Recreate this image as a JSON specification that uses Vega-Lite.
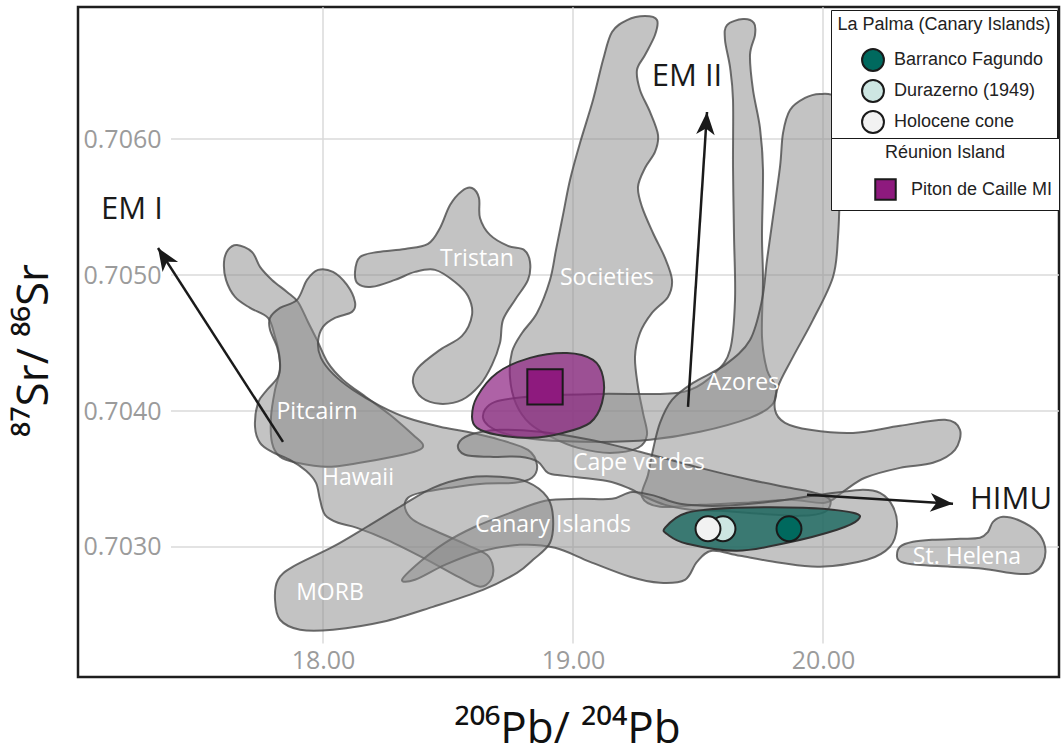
{
"$schema": "https://vega.github.io/schema/vega-lite/v6.json",
"width": 981, "height": 670,
"autosize": {"type": "none"},
"padding": {"left": 78, "top": 7, "right": 3, "bottom": 78},
"background": "white",
"config": {
  "view": {"stroke": "#1e1e1e", "strokeWidth": 2.5},
  "font": "Open Sans",
  "axis": {"grid": false, "ticks": false, "domain": false},
  "legend": {"labelFont": "Liberation Sans", "titleFont": "Liberation Sans", "labelFontSize": 18, "titleFontSize": 18, "titleFontWeight": "normal", "titleColor": "#222", "labelColor": "#222", "strokeColor": "#1a1a1a", "fillColor": "white", "padding": 6, "symbolStrokeWidth": 2, "symbolStrokeColor": "#1a1a1a", "rowPadding": 1, "titleAnchor": "middle", "labelLimit": 300, "titleLimit": 300}
},
"datasets": {
  "gx": [{"x": 18}, {"x": 19}, {"x": 20}],
  "gy": [{"y": 0.703}, {"y": 0.704}, {"y": 0.705}, {"y": 0.706}],
  "fields": [
    {"f":"Pitcairn","i":1,"x":17.656,"y":0.705221},{"f":"Pitcairn","i":2,"x":17.716,"y":0.705170},{"f":"Pitcairn","i":3,"x":17.748,"y":0.705060},{"f":"Pitcairn","i":4,"x":17.796,"y":0.704964},{"f":"Pitcairn","i":5,"x":17.856,"y":0.704876},{"f":"Pitcairn","i":6,"x":17.900,"y":0.704802},{"f":"Pitcairn","i":7,"x":17.940,"y":0.704655},{"f":"Pitcairn","i":8,"x":17.976,"y":0.704523},{"f":"Pitcairn","i":9,"x":18.020,"y":0.704354},{"f":"Pitcairn","i":10,"x":18.080,"y":0.704229},{"f":"Pitcairn","i":11,"x":18.176,"y":0.704097},{"f":"Pitcairn","i":12,"x":18.268,"y":0.703972},{"f":"Pitcairn","i":13,"x":18.360,"y":0.703825},{"f":"Pitcairn","i":14,"x":18.400,"y":0.703751},{"f":"Pitcairn","i":15,"x":18.376,"y":0.703707},{"f":"Pitcairn","i":16,"x":18.280,"y":0.703663},{"f":"Pitcairn","i":17,"x":18.148,"y":0.703619},{"f":"Pitcairn","i":18,"x":18.016,"y":0.703590},{"f":"Pitcairn","i":19,"x":17.896,"y":0.703619},{"f":"Pitcairn","i":20,"x":17.828,"y":0.703663},{"f":"Pitcairn","i":21,"x":17.796,"y":0.703766},{"f":"Pitcairn","i":22,"x":17.792,"y":0.703957},{"f":"Pitcairn","i":23,"x":17.808,"y":0.704155},{"f":"Pitcairn","i":24,"x":17.828,"y":0.704302},{"f":"Pitcairn","i":25,"x":17.824,"y":0.704427},{"f":"Pitcairn","i":26,"x":17.808,"y":0.704545},{"f":"Pitcairn","i":27,"x":17.780,"y":0.704685},{"f":"Pitcairn","i":28,"x":17.708,"y":0.704758},{"f":"Pitcairn","i":29,"x":17.648,"y":0.704839},{"f":"Pitcairn","i":30,"x":17.612,"y":0.704964},{"f":"Pitcairn","i":31,"x":17.604,"y":0.705096},{"f":"Pitcairn","i":32,"x":17.620,"y":0.705185},
    {"f":"Hawaii","i":1,"x":17.896,"y":0.704817},{"f":"Hawaii","i":2,"x":17.936,"y":0.704964},{"f":"Hawaii","i":3,"x":17.980,"y":0.705038},{"f":"Hawaii","i":4,"x":18.040,"y":0.705023},{"f":"Hawaii","i":5,"x":18.096,"y":0.704927},{"f":"Hawaii","i":6,"x":18.128,"y":0.704802},{"f":"Hawaii","i":7,"x":18.116,"y":0.704729},{"f":"Hawaii","i":8,"x":18.048,"y":0.704685},{"f":"Hawaii","i":9,"x":18.000,"y":0.704619},{"f":"Hawaii","i":10,"x":17.980,"y":0.704508},{"f":"Hawaii","i":11,"x":17.992,"y":0.704391},{"f":"Hawaii","i":12,"x":18.040,"y":0.704273},{"f":"Hawaii","i":13,"x":18.120,"y":0.704155},{"f":"Hawaii","i":14,"x":18.228,"y":0.704038},{"f":"Hawaii","i":15,"x":18.336,"y":0.703950},{"f":"Hawaii","i":16,"x":18.468,"y":0.703884},{"f":"Hawaii","i":17,"x":18.576,"y":0.703847},{"f":"Hawaii","i":18,"x":18.708,"y":0.703788},{"f":"Hawaii","i":19,"x":18.820,"y":0.703714},{"f":"Hawaii","i":20,"x":18.856,"y":0.703604},{"f":"Hawaii","i":21,"x":18.836,"y":0.703509},{"f":"Hawaii","i":22,"x":18.768,"y":0.703472},{"f":"Hawaii","i":23,"x":18.640,"y":0.703465},{"f":"Hawaii","i":24,"x":18.508,"y":0.703435},{"f":"Hawaii","i":25,"x":18.388,"y":0.703398},{"f":"Hawaii","i":26,"x":18.340,"y":0.703362},{"f":"Hawaii","i":27,"x":18.328,"y":0.703288},{"f":"Hawaii","i":28,"x":18.360,"y":0.703200},{"f":"Hawaii","i":29,"x":18.440,"y":0.703127},{"f":"Hawaii","i":30,"x":18.576,"y":0.703016},{"f":"Hawaii","i":31,"x":18.656,"y":0.702943},{"f":"Hawaii","i":32,"x":18.680,"y":0.702855},{"f":"Hawaii","i":33,"x":18.672,"y":0.702759},{"f":"Hawaii","i":34,"x":18.628,"y":0.702708},{"f":"Hawaii","i":35,"x":18.548,"y":0.702774},{"f":"Hawaii","i":36,"x":18.416,"y":0.702906},{"f":"Hawaii","i":37,"x":18.256,"y":0.703053},{"f":"Hawaii","i":38,"x":18.136,"y":0.703141},{"f":"Hawaii","i":39,"x":18.060,"y":0.703178},{"f":"Hawaii","i":40,"x":18.008,"y":0.703237},{"f":"Hawaii","i":41,"x":17.988,"y":0.703347},{"f":"Hawaii","i":42,"x":17.972,"y":0.703472},{"f":"Hawaii","i":43,"x":17.932,"y":0.703560},{"f":"Hawaii","i":44,"x":17.868,"y":0.703641},{"f":"Hawaii","i":45,"x":17.796,"y":0.703700},{"f":"Hawaii","i":46,"x":17.748,"y":0.703766},{"f":"Hawaii","i":47,"x":17.728,"y":0.703884},{"f":"Hawaii","i":48,"x":17.740,"y":0.704060},{"f":"Hawaii","i":49,"x":17.776,"y":0.704155},{"f":"Hawaii","i":50,"x":17.820,"y":0.704251},{"f":"Hawaii","i":51,"x":17.828,"y":0.704354},{"f":"Hawaii","i":52,"x":17.816,"y":0.704472},{"f":"Hawaii","i":53,"x":17.788,"y":0.704597},{"f":"Hawaii","i":54,"x":17.788,"y":0.704685},{"f":"Hawaii","i":55,"x":17.828,"y":0.704758},
    {"f":"Tristan","i":1,"x":18.128,"y":0.705023},{"f":"Tristan","i":2,"x":18.148,"y":0.705133},{"f":"Tristan","i":3,"x":18.220,"y":0.705170},{"f":"Tristan","i":4,"x":18.328,"y":0.705192},{"f":"Tristan","i":5,"x":18.420,"y":0.705229},{"f":"Tristan","i":6,"x":18.468,"y":0.705346},{"f":"Tristan","i":7,"x":18.508,"y":0.705515},{"f":"Tristan","i":8,"x":18.556,"y":0.705618},{"f":"Tristan","i":9,"x":18.596,"y":0.705640},{"f":"Tristan","i":10,"x":18.624,"y":0.705567},{"f":"Tristan","i":11,"x":18.628,"y":0.705420},{"f":"Tristan","i":12,"x":18.668,"y":0.705295},{"f":"Tristan","i":13,"x":18.740,"y":0.705214},{"f":"Tristan","i":14,"x":18.804,"y":0.705185},{"f":"Tristan","i":15,"x":18.828,"y":0.705096},{"f":"Tristan","i":16,"x":18.820,"y":0.704964},{"f":"Tristan","i":17,"x":18.768,"y":0.704817},{"f":"Tristan","i":18,"x":18.720,"y":0.704670},{"f":"Tristan","i":19,"x":18.708,"y":0.704501},{"f":"Tristan","i":20,"x":18.676,"y":0.704339},{"f":"Tristan","i":21,"x":18.628,"y":0.704192},{"f":"Tristan","i":22,"x":18.556,"y":0.704082},{"f":"Tristan","i":23,"x":18.468,"y":0.704053},{"f":"Tristan","i":24,"x":18.396,"y":0.704097},{"f":"Tristan","i":25,"x":18.360,"y":0.704207},{"f":"Tristan","i":26,"x":18.380,"y":0.704317},{"f":"Tristan","i":27,"x":18.468,"y":0.704450},{"f":"Tristan","i":28,"x":18.556,"y":0.704552},{"f":"Tristan","i":29,"x":18.596,"y":0.704707},{"f":"Tristan","i":30,"x":18.580,"y":0.704846},{"f":"Tristan","i":31,"x":18.528,"y":0.704949},{"f":"Tristan","i":32,"x":18.448,"y":0.705038},{"f":"Tristan","i":33,"x":18.368,"y":0.705023},{"f":"Tristan","i":34,"x":18.288,"y":0.704964},{"f":"Tristan","i":35,"x":18.196,"y":0.704913},{"f":"Tristan","i":36,"x":18.140,"y":0.704935},
    {"f":"Societies","i":1,"x":19.156,"y":0.706787},{"f":"Societies","i":2,"x":19.216,"y":0.706875},{"f":"Societies","i":3,"x":19.288,"y":0.706904},{"f":"Societies","i":4,"x":19.336,"y":0.706875},{"f":"Societies","i":5,"x":19.328,"y":0.706765},{"f":"Societies","i":6,"x":19.288,"y":0.706618},{"f":"Societies","i":7,"x":19.256,"y":0.706508},{"f":"Societies","i":8,"x":19.268,"y":0.706361},{"f":"Societies","i":9,"x":19.308,"y":0.706199},{"f":"Societies","i":10,"x":19.340,"y":0.706030},{"f":"Societies","i":11,"x":19.328,"y":0.705905},{"f":"Societies","i":12,"x":19.288,"y":0.705787},{"f":"Societies","i":13,"x":19.260,"y":0.705648},{"f":"Societies","i":14,"x":19.276,"y":0.705501},{"f":"Societies","i":15,"x":19.320,"y":0.705309},{"f":"Societies","i":16,"x":19.368,"y":0.705126},{"f":"Societies","i":17,"x":19.396,"y":0.704964},{"f":"Societies","i":18,"x":19.380,"y":0.704839},{"f":"Societies","i":19,"x":19.316,"y":0.704721},{"f":"Societies","i":20,"x":19.268,"y":0.704574},{"f":"Societies","i":21,"x":19.248,"y":0.704398},{"f":"Societies","i":22,"x":19.260,"y":0.704178},{"f":"Societies","i":23,"x":19.280,"y":0.703986},{"f":"Societies","i":24,"x":19.296,"y":0.703825},{"f":"Societies","i":25,"x":19.260,"y":0.703729},{"f":"Societies","i":26,"x":19.148,"y":0.703692},{"f":"Societies","i":27,"x":19.020,"y":0.703729},{"f":"Societies","i":28,"x":18.920,"y":0.703803},{"f":"Societies","i":29,"x":18.828,"y":0.703906},{"f":"Societies","i":30,"x":18.772,"y":0.704053},{"f":"Societies","i":31,"x":18.748,"y":0.704244},{"f":"Societies","i":32,"x":18.756,"y":0.704435},{"f":"Societies","i":33,"x":18.796,"y":0.704574},{"f":"Societies","i":34,"x":18.856,"y":0.704721},{"f":"Societies","i":35,"x":18.908,"y":0.704964},{"f":"Societies","i":36,"x":18.932,"y":0.705185},{"f":"Societies","i":37,"x":18.960,"y":0.705442},{"f":"Societies","i":38,"x":18.988,"y":0.705699},{"f":"Societies","i":39,"x":19.028,"y":0.705971},{"f":"Societies","i":40,"x":19.080,"y":0.706287},{"f":"Societies","i":41,"x":19.120,"y":0.706581},
    {"f":"Samoa","i":1,"x":19.616,"y":0.706838},{"f":"Samoa","i":2,"x":19.680,"y":0.706882},{"f":"Samoa","i":3,"x":19.724,"y":0.706853},{"f":"Samoa","i":4,"x":19.728,"y":0.706765},{"f":"Samoa","i":5,"x":19.708,"y":0.706618},{"f":"Samoa","i":6,"x":19.720,"y":0.706361},{"f":"Samoa","i":7,"x":19.748,"y":0.706081},{"f":"Samoa","i":8,"x":19.760,"y":0.705773},{"f":"Samoa","i":9,"x":19.756,"y":0.705295},{"f":"Samoa","i":10,"x":19.760,"y":0.704964},{"f":"Samoa","i":11,"x":19.756,"y":0.704545},{"f":"Samoa","i":12,"x":19.776,"y":0.704302},{"f":"Samoa","i":13,"x":19.812,"y":0.704170},{"f":"Samoa","i":14,"x":19.796,"y":0.704045},{"f":"Samoa","i":15,"x":19.708,"y":0.703950},{"f":"Samoa","i":16,"x":19.508,"y":0.703847},{"f":"Samoa","i":17,"x":19.308,"y":0.703788},{"f":"Samoa","i":18,"x":19.108,"y":0.703773},{"f":"Samoa","i":19,"x":18.868,"y":0.703788},{"f":"Samoa","i":20,"x":18.708,"y":0.703847},{"f":"Samoa","i":21,"x":18.640,"y":0.703950},{"f":"Samoa","i":22,"x":18.688,"y":0.704067},{"f":"Samoa","i":23,"x":18.868,"y":0.704111},{"f":"Samoa","i":24,"x":19.108,"y":0.704126},{"f":"Samoa","i":25,"x":19.348,"y":0.704126},{"f":"Samoa","i":26,"x":19.468,"y":0.704155},{"f":"Samoa","i":27,"x":19.568,"y":0.704280},{"f":"Samoa","i":28,"x":19.628,"y":0.704449},{"f":"Samoa","i":29,"x":19.648,"y":0.704817},{"f":"Samoa","i":30,"x":19.644,"y":0.705295},{"f":"Samoa","i":31,"x":19.640,"y":0.705795},{"f":"Samoa","i":32,"x":19.640,"y":0.706287},{"f":"Samoa","i":33,"x":19.628,"y":0.706530},{"f":"Samoa","i":34,"x":19.608,"y":0.706728},
    {"f":"Azores","i":1,"x":19.840,"y":0.706044},{"f":"Azores","i":2,"x":19.868,"y":0.706214},{"f":"Azores","i":3,"x":19.928,"y":0.706302},{"f":"Azores","i":4,"x":19.988,"y":0.706331},{"f":"Azores","i":5,"x":20.048,"y":0.706309},{"f":"Azores","i":6,"x":20.068,"y":0.706140},{"f":"Azores","i":7,"x":20.068,"y":0.705699},{"f":"Azores","i":8,"x":20.060,"y":0.705280},{"f":"Azores","i":9,"x":20.040,"y":0.704986},{"f":"Azores","i":10,"x":19.960,"y":0.704670},{"f":"Azores","i":11,"x":19.880,"y":0.704398},{"f":"Azores","i":12,"x":19.820,"y":0.704178},{"f":"Azores","i":13,"x":19.808,"y":0.704009},{"f":"Azores","i":14,"x":19.848,"y":0.703913},{"f":"Azores","i":15,"x":19.948,"y":0.703862},{"f":"Azores","i":16,"x":20.120,"y":0.703839},{"f":"Azores","i":17,"x":20.308,"y":0.703891},{"f":"Azores","i":18,"x":20.488,"y":0.703935},{"f":"Azores","i":19,"x":20.548,"y":0.703862},{"f":"Azores","i":20,"x":20.528,"y":0.703715},{"f":"Azores","i":21,"x":20.440,"y":0.703619},{"f":"Azores","i":22,"x":20.308,"y":0.703582},{"f":"Azores","i":23,"x":20.168,"y":0.703509},{"f":"Azores","i":24,"x":20.080,"y":0.703406},{"f":"Azores","i":25,"x":20.008,"y":0.703325},{"f":"Azores","i":26,"x":19.868,"y":0.703347},{"f":"Azores","i":27,"x":19.688,"y":0.703325},{"f":"Azores","i":28,"x":19.508,"y":0.703310},{"f":"Azores","i":29,"x":19.348,"y":0.703296},{"f":"Azores","i":30,"x":19.276,"y":0.703369},{"f":"Azores","i":31,"x":19.300,"y":0.703531},{"f":"Azores","i":32,"x":19.320,"y":0.703715},{"f":"Azores","i":33,"x":19.348,"y":0.703913},{"f":"Azores","i":34,"x":19.396,"y":0.704082},{"f":"Azores","i":35,"x":19.480,"y":0.704207},{"f":"Azores","i":36,"x":19.608,"y":0.704339},{"f":"Azores","i":37,"x":19.708,"y":0.704523},{"f":"Azores","i":38,"x":19.756,"y":0.704817},{"f":"Azores","i":39,"x":19.776,"y":0.705111},{"f":"Azores","i":40,"x":19.800,"y":0.705427},{"f":"Azores","i":41,"x":19.828,"y":0.705795},
    {"f":"Cape Verde","i":1,"x":18.540,"y":0.703751},{"f":"Cape Verde","i":2,"x":18.588,"y":0.703825},{"f":"Cape Verde","i":3,"x":18.708,"y":0.703862},{"f":"Cape Verde","i":4,"x":18.868,"y":0.703847},{"f":"Cape Verde","i":5,"x":19.068,"y":0.703788},{"f":"Cape Verde","i":6,"x":19.268,"y":0.703700},{"f":"Cape Verde","i":7,"x":19.508,"y":0.703582},{"f":"Cape Verde","i":8,"x":19.708,"y":0.703494},{"f":"Cape Verde","i":9,"x":19.868,"y":0.703435},{"f":"Cape Verde","i":10,"x":19.968,"y":0.703398},{"f":"Cape Verde","i":11,"x":20.028,"y":0.703347},{"f":"Cape Verde","i":12,"x":20.008,"y":0.703259},{"f":"Cape Verde","i":13,"x":19.908,"y":0.703229},{"f":"Cape Verde","i":14,"x":19.748,"y":0.703244},{"f":"Cape Verde","i":15,"x":19.588,"y":0.703266},{"f":"Cape Verde","i":16,"x":19.468,"y":0.703274},{"f":"Cape Verde","i":17,"x":19.368,"y":0.703310},{"f":"Cape Verde","i":18,"x":19.288,"y":0.703369},{"f":"Cape Verde","i":19,"x":19.228,"y":0.703428},{"f":"Cape Verde","i":20,"x":19.136,"y":0.703486},{"f":"Cape Verde","i":21,"x":18.968,"y":0.703523},{"f":"Cape Verde","i":22,"x":18.900,"y":0.703545},{"f":"Cape Verde","i":23,"x":18.860,"y":0.703626},{"f":"Cape Verde","i":24,"x":18.788,"y":0.703663},{"f":"Cape Verde","i":25,"x":18.668,"y":0.703663},{"f":"Cape Verde","i":26,"x":18.568,"y":0.703678},
    {"f":"Canary","i":1,"x":18.316,"y":0.702759},{"f":"Canary","i":2,"x":18.388,"y":0.702891},{"f":"Canary","i":3,"x":18.488,"y":0.703031},{"f":"Canary","i":4,"x":18.608,"y":0.703149},{"f":"Canary","i":5,"x":18.748,"y":0.703251},{"f":"Canary","i":6,"x":18.888,"y":0.703340},{"f":"Canary","i":7,"x":19.028,"y":0.703354},{"f":"Canary","i":8,"x":19.156,"y":0.703354},{"f":"Canary","i":9,"x":19.236,"y":0.703405},{"f":"Canary","i":10,"x":19.328,"y":0.703376},{"f":"Canary","i":11,"x":19.428,"y":0.703318},{"f":"Canary","i":12,"x":19.588,"y":0.703303},{"f":"Canary","i":13,"x":19.788,"y":0.703332},{"f":"Canary","i":14,"x":19.988,"y":0.703384},{"f":"Canary","i":15,"x":20.148,"y":0.703420},{"f":"Canary","i":16,"x":20.228,"y":0.703398},{"f":"Canary","i":17,"x":20.280,"y":0.703296},{"f":"Canary","i":18,"x":20.296,"y":0.703149},{"f":"Canary","i":19,"x":20.268,"y":0.703002},{"f":"Canary","i":20,"x":20.176,"y":0.702906},{"f":"Canary","i":21,"x":19.988,"y":0.702855},{"f":"Canary","i":22,"x":19.828,"y":0.702884},{"f":"Canary","i":23,"x":19.668,"y":0.702935},{"f":"Canary","i":24,"x":19.556,"y":0.702972},{"f":"Canary","i":25,"x":19.496,"y":0.702891},{"f":"Canary","i":26,"x":19.448,"y":0.702759},{"f":"Canary","i":27,"x":19.348,"y":0.702737},{"f":"Canary","i":28,"x":19.228,"y":0.702781},{"f":"Canary","i":29,"x":19.068,"y":0.702891},{"f":"Canary","i":30,"x":18.928,"y":0.702994},{"f":"Canary","i":31,"x":18.788,"y":0.703016},{"f":"Canary","i":32,"x":18.628,"y":0.702965},{"f":"Canary","i":33,"x":18.488,"y":0.702869},{"f":"Canary","i":34,"x":18.368,"y":0.702759},
    {"f":"MORB","i":1,"x":17.820,"y":0.702759},{"f":"MORB","i":2,"x":17.880,"y":0.702855},{"f":"MORB","i":3,"x":18.040,"y":0.703002},{"f":"MORB","i":4,"x":18.176,"y":0.703149},{"f":"MORB","i":5,"x":18.308,"y":0.703296},{"f":"MORB","i":6,"x":18.440,"y":0.703435},{"f":"MORB","i":7,"x":18.576,"y":0.703509},{"f":"MORB","i":8,"x":18.708,"y":0.703516},{"f":"MORB","i":9,"x":18.816,"y":0.703479},{"f":"MORB","i":10,"x":18.896,"y":0.703369},{"f":"MORB","i":11,"x":18.920,"y":0.703222},{"f":"MORB","i":12,"x":18.908,"y":0.703031},{"f":"MORB","i":13,"x":18.840,"y":0.702906},{"f":"MORB","i":14,"x":18.776,"y":0.702810},{"f":"MORB","i":15,"x":18.640,"y":0.702685},{"f":"MORB","i":16,"x":18.440,"y":0.702560},{"f":"MORB","i":17,"x":18.240,"y":0.702450},{"f":"MORB","i":18,"x":18.040,"y":0.702392},{"f":"MORB","i":19,"x":17.908,"y":0.702392},{"f":"MORB","i":20,"x":17.828,"y":0.702465},{"f":"MORB","i":21,"x":17.808,"y":0.702612},
    {"f":"St Helena","i":1,"x":20.296,"y":0.702928},{"f":"St Helena","i":2,"x":20.308,"y":0.703002},{"f":"St Helena","i":3,"x":20.360,"y":0.703038},{"f":"St Helena","i":4,"x":20.440,"y":0.703053},{"f":"St Helena","i":5,"x":20.548,"y":0.703060},{"f":"St Helena","i":6,"x":20.628,"y":0.703068},{"f":"St Helena","i":7,"x":20.660,"y":0.703112},{"f":"St Helena","i":8,"x":20.680,"y":0.703185},{"f":"St Helena","i":9,"x":20.720,"y":0.703222},{"f":"St Helena","i":10,"x":20.788,"y":0.703193},{"f":"St Helena","i":11,"x":20.856,"y":0.703112},{"f":"St Helena","i":12,"x":20.888,"y":0.703002},{"f":"St Helena","i":13,"x":20.880,"y":0.702884},{"f":"St Helena","i":14,"x":20.840,"y":0.702810},{"f":"St Helena","i":15,"x":20.776,"y":0.702803},{"f":"St Helena","i":16,"x":20.640,"y":0.702840},{"f":"St Helena","i":17,"x":20.508,"y":0.702855},{"f":"St Helena","i":18,"x":20.376,"y":0.702869},{"f":"St Helena","i":19,"x":20.312,"y":0.702891}
  ],
  "reunion": [
    {"i":1,"x":18.596,"y":0.703957},{"i":2,"x":18.616,"y":0.704104},{"i":3,"x":18.696,"y":0.704280},{"i":4,"x":18.828,"y":0.704391},{"i":5,"x":18.976,"y":0.704427},{"i":6,"x":19.080,"y":0.704376},{"i":7,"x":19.120,"y":0.704251},{"i":8,"x":19.116,"y":0.704060},{"i":9,"x":19.068,"y":0.703913},{"i":10,"x":18.960,"y":0.703839},{"i":11,"x":18.828,"y":0.703803},{"i":12,"x":18.696,"y":0.703825},{"i":13,"x":18.616,"y":0.703876}
  ],
  "lapalma": [
    {"i":1,"x":19.368,"y":0.703141},{"i":2,"x":19.456,"y":0.703252},{"i":3,"x":19.656,"y":0.703288},{"i":4,"x":19.920,"y":0.703288},{"i":5,"x":20.120,"y":0.703252},{"i":6,"x":20.140,"y":0.703200},{"i":7,"x":20.056,"y":0.703127},{"i":8,"x":19.856,"y":0.703031},{"i":9,"x":19.656,"y":0.702972},{"i":10,"x":19.456,"y":0.703024},{"i":11,"x":19.380,"y":0.703090}
  ],
  "arrows": [
    {"a":"EM I","x":17.840,"y":0.703773,"x2":17.340,"y2":0.705199},
    {"a":"EM II","x":19.460,"y":0.704031,"x2":19.536,"y2":0.706199},
    {"a":"HIMU","x":19.936,"y":0.703384,"x2":20.520,"y2":0.703318}
  ],
  "labels": [
    {"t":"Tristan","x":18.616,"y":0.705118},
    {"t":"Societies","x":19.136,"y":0.704979},
    {"t":"Pitcairn","x":17.976,"y":0.703994},
    {"t":"Hawaii","x":18.140,"y":0.703509},
    {"t":"Azores","x":19.680,"y":0.704207},
    {"t":"Cape verdes","x":19.264,"y":0.703619},
    {"t":"Canary Islands","x":18.920,"y":0.703163},
    {"t":"MORB","x":18.028,"y":0.702663},
    {"t":"St. Helena","x":20.576,"y":0.702928}
  ],
  "endmembers": [
    {"t":"EM I","x":17.236,"y":0.705479},
    {"t":"EM II","x":19.456,"y":0.706456},
    {"t":"HIMU","x":20.752,"y":0.703347}
  ],
  "lapalmaPts": [
    {"s":"Barranco Fagundo","x":19.864,"y":0.703134},
    {"s":"Durazerno (1949)","x":19.600,"y":0.703134},
    {"s":"Holocene cone","x":19.540,"y":0.703134}
  ],
  "reunionPts": [
    {"s":"Piton de Caille MI","x":18.888,"y":0.704178}
  ]
},
"layer": [
  {"data": {"name": "gx"},
   "mark": {"type": "rule", "color": "#dadada", "strokeWidth": 1.5},
   "encoding": {
     "x": {"field": "x", "type": "quantitative", "scale": {"domain": [17.02, 20.944], "nice": false, "zero": false},
       "axis": {"title": "²⁰⁶Pb/ ²⁰⁴Pb", "values": [18, 19, 20], "format": ".2f", "grid": false, "ticks": false, "domain": false, "labelPadding": -9, "labelBaseline": "alphabetic", "labelFontSize": 25, "labelColor": "#9b9b9b", "labelFont": "Open Sans", "labelFlush": false, "labelOverlap": false, "titleFont": "Open Sans", "titleFontSize": 44, "titleFontWeight": "normal", "titleColor": "#111", "titleX": 489, "titleY": 65, "titleBaseline": "alphabetic", "titleAlign": "center"}},
     "y": {"datum": 0.70229, "type": "quantitative", "scale": {"domain": [0.702044, 0.706971], "nice": false, "zero": false},
       "axis": {"title": "⁸⁷Sr/ ⁸⁶Sr", "values": [0.703, 0.704, 0.705, 0.706], "format": ".4f", "grid": false, "ticks": false, "domain": false, "labelAlign": "left", "labelBaseline": "middle", "labelPadding": -5, "labelFontSize": 25, "labelColor": "#9b9b9b", "labelFont": "Open Sans", "labelFlush": false, "labelOverlap": false, "titleFont": "Open Sans", "titleFontSize": 44, "titleFontWeight": "normal", "titleColor": "#111", "titleX": -31, "titleY": 343, "titleAngle": 270, "titleBaseline": "alphabetic", "titleAlign": "center"}},
     "y2": {"datum": 0.70697}
   }},
  {"data": {"name": "gy"},
   "mark": {"type": "rule", "color": "#dadada", "strokeWidth": 1.5},
   "encoding": {
     "y": {"field": "y", "type": "quantitative", "scale": {"domain": [0.702044, 0.706971], "nice": false, "zero": false},
       "axis": {"title": "⁸⁷Sr/ ⁸⁶Sr", "values": [0.703, 0.704, 0.705, 0.706], "format": ".4f", "grid": false, "ticks": false, "domain": false, "labelAlign": "left", "labelBaseline": "middle", "labelPadding": -5, "labelFontSize": 25, "labelColor": "#9b9b9b", "labelFont": "Open Sans", "labelFlush": false, "labelOverlap": false, "titleFont": "Open Sans", "titleFontSize": 44, "titleFontWeight": "normal", "titleColor": "#111", "titleX": -31, "titleY": 343, "titleAngle": 270, "titleBaseline": "alphabetic", "titleAlign": "center"}},
     "x": {"datum": 17.392, "type": "quantitative", "scale": {"domain": [17.02, 20.944], "nice": false, "zero": false},
       "axis": {"title": "²⁰⁶Pb/ ²⁰⁴Pb", "values": [18, 19, 20], "format": ".2f", "grid": false, "ticks": false, "domain": false, "labelPadding": -9, "labelBaseline": "alphabetic", "labelFontSize": 25, "labelColor": "#9b9b9b", "labelFont": "Open Sans", "labelFlush": false, "labelOverlap": false, "titleFont": "Open Sans", "titleFontSize": 44, "titleFontWeight": "normal", "titleColor": "#111", "titleX": 489, "titleY": 65, "titleBaseline": "alphabetic", "titleAlign": "center"}},
     "x2": {"datum": 20.944}
   }},
  {"encoding": {
     "x": {"field": "x", "type": "quantitative", "scale": {"domain": [17.02, 20.944], "nice": false, "zero": false},
       "axis": {"title": "²⁰⁶Pb/ ²⁰⁴Pb", "values": [18, 19, 20], "format": ".2f", "grid": false, "ticks": false, "domain": false, "labelPadding": -9, "labelBaseline": "alphabetic", "labelFontSize": 25, "labelColor": "#9b9b9b", "labelFont": "Open Sans", "labelFlush": false, "labelOverlap": false, "titleFont": "Open Sans", "titleFontSize": 44, "titleFontWeight": "normal", "titleColor": "#111", "titleX": 489, "titleY": 65, "titleBaseline": "alphabetic", "titleAlign": "center"}},
     "y": {"field": "y", "type": "quantitative", "scale": {"domain": [0.702044, 0.706971], "nice": false, "zero": false},
       "axis": {"title": "⁸⁷Sr/ ⁸⁶Sr", "values": [0.703, 0.704, 0.705, 0.706], "format": ".4f", "grid": false, "ticks": false, "domain": false, "labelAlign": "left", "labelBaseline": "middle", "labelPadding": -5, "labelFontSize": 25, "labelColor": "#9b9b9b", "labelFont": "Open Sans", "labelFlush": false, "labelOverlap": false, "titleFont": "Open Sans", "titleFontSize": 44, "titleFontWeight": "normal", "titleColor": "#111", "titleX": -31, "titleY": 343, "titleAngle": 270, "titleBaseline": "alphabetic", "titleAlign": "center"}}
   },
   "layer": [
    {"data": {"name": "fields"},
     "mark": {"type": "line", "interpolate": "cardinal-closed", "fill": "#888888", "fillOpacity": 0.5, "stroke": "#4a4a4a", "strokeOpacity": 0.8, "strokeWidth": 2},
     "encoding": {"detail": {"field": "f"}, "order": {"field": "i", "type": "quantitative"}}},
    {"data": {"name": "reunion"},
     "mark": {"type": "line", "interpolate": "cardinal-closed", "fill": "#8b1f80", "fillOpacity": 0.7, "stroke": "#333333", "strokeWidth": 2},
     "encoding": {"order": {"field": "i", "type": "quantitative"}}},
    {"data": {"name": "lapalma"},
     "mark": {"type": "line", "interpolate": "cardinal-closed", "fill": "#18665e", "fillOpacity": 0.8, "stroke": "#333333", "strokeWidth": 2},
     "encoding": {"order": {"field": "i", "type": "quantitative"}}},
    {"data": {"name": "arrows"},
     "mark": {"type": "rule", "color": "#1a1a1a", "strokeWidth": 2.5},
     "encoding": {"x2": {"field": "x2"}, "y2": {"field": "y2"}}},
    {"data": {"name": "arrows"},
     "transform": [{"filter": "datum.a === 'EM I'"}],
     "mark": {"type": "point", "shape": "M0,0L0.45,1.1L0,0.8L-0.45,1.1Z", "filled": true, "color": "#1a1a1a", "opacity": 1, "size": 1700, "angle": 327},
     "encoding": {"x": {"field": "x2"}, "y": {"field": "y2"}}},
    {"data": {"name": "arrows"},
     "transform": [{"filter": "datum.a === 'EM II'"}],
     "mark": {"type": "point", "shape": "M0,0L0.45,1.1L0,0.8L-0.45,1.1Z", "filled": true, "color": "#1a1a1a", "opacity": 1, "size": 1700, "angle": 4},
     "encoding": {"x": {"field": "x2"}, "y": {"field": "y2"}}},
    {"data": {"name": "arrows"},
     "transform": [{"filter": "datum.a === 'HIMU'"}],
     "mark": {"type": "point", "shape": "M0,0L0.45,1.1L0,0.8L-0.45,1.1Z", "filled": true, "color": "#1a1a1a", "opacity": 1, "size": 1700, "angle": 93.5},
     "encoding": {"x": {"field": "x2"}, "y": {"field": "y2"}}},
    {"data": {"name": "labels"},
     "mark": {"type": "text", "font": "Open Sans", "fontSize": 23, "color": "white", "align": "center", "baseline": "middle"},
     "encoding": {"text": {"field": "t"}}},
    {"data": {"name": "endmembers"},
     "mark": {"type": "text", "font": "Open Sans", "fontSize": 31, "color": "#1a1a1a", "align": "center", "baseline": "middle"},
     "encoding": {"text": {"field": "t"}}},
    {"data": {"name": "lapalmaPts"},
     "mark": {"type": "point", "shape": "circle", "filled": true, "size": 620, "stroke": "#1a1a1a", "strokeWidth": 2, "opacity": 1},
     "encoding": {"fill": {"field": "s", "type": "nominal",
       "scale": {"domain": ["Barranco Fagundo", "Durazerno (1949)", "Holocene cone"], "range": ["#00695e", "#cde6e2", "#f2f2f2"]},
       "legend": {"title": "La Palma (Canary Islands)", "orient": "none", "legendX": 753, "legendY": 3, "symbolType": "circle", "symbolSize": 480, "symbolOffset": 17, "labelOffset": 9, "titlePadding": 14, "rowPadding": 1}}}},
    {"data": {"name": "reunionPts"},
     "mark": {"type": "point", "shape": "square", "filled": true, "size": 1250, "stroke": "#1a1a1a", "strokeWidth": 2, "opacity": 1},
     "encoding": {"fill": {"field": "s", "type": "nominal",
       "scale": {"domain": ["Piton de Caille MI"], "range": ["#8e1a7e"]},
       "legend": {"title": "Réunion Island", "orient": "none", "legendX": 753, "legendY": 131, "symbolType": "square", "symbolSize": 420, "symbolOffset": 37, "labelOffset": 14, "titlePadding": 16}}}}
   ],
   "resolve": {"scale": {"fill": "independent"}, "legend": {"fill": "independent"}}}
]
}
